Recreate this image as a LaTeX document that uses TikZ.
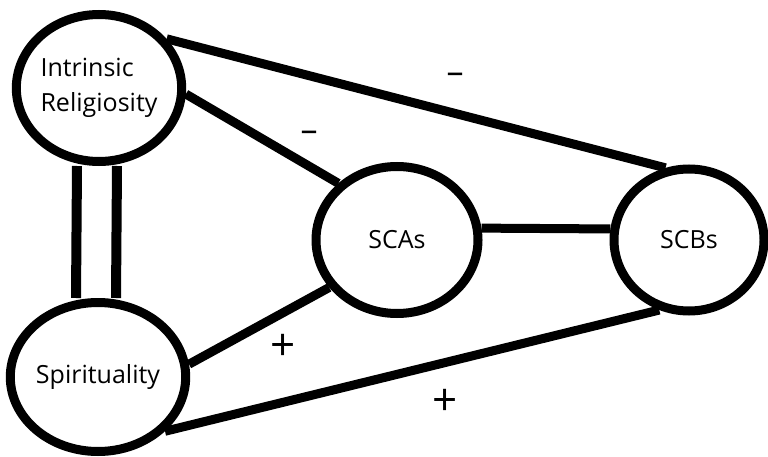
\documentclass[tikz,border=0pt]{standalone}
\usepackage{fontspec}
\setmainfont{Open Sans}
\usetikzlibrary{shapes,calc}

\begin{document}
\begin{tikzpicture}[x=1pt,y=-1pt,font=\fontsize{25}{35}\selectfont,
	var/.style={draw, ellipse, line width=9pt, inner sep=0pt, align=left},
	link/.style={line width=9pt},
	sign/.style={inner sep=0pt, font=\fontsize{44}{44}\selectfont}]
\useasboundingbox (0,0) rectangle (768,457);
	% the four variables
	\node[var, minimum width=160pt, minimum height=147pt] (ir) at (99,88) {Intrinsic\\Religiosity};
	\node[var, minimum width=162pt, minimum height=149pt] (sp) at (98,377) {Spirituality};
	\node[var, minimum width=162pt, minimum height=147pt] (sca) at (397,240) {SCAs};
	\node[var, minimum width=150pt, minimum height=142pt] (scb) at (689,240) {SCBs};
	% paths
	\draw[link] (ir.36) -- (scb.108);
	\draw[link] (ir.-4) -- (sca.136);
	\draw[link] (sca.8) -- (scb.172);
	\draw[link] (sp.8) -- (sca.215);
	\draw[link] (sp.-39) -- (scb.247);
	\draw[line width=10pt] ([xshift=-22pt]ir.south) -- ([xshift=-22pt]sp.north);
	\draw[line width=10pt] ([xshift=18pt]ir.south) -- ([xshift=18pt]sp.north);
	% signs
	\node[sign, anchor=base, font=\fontsize{34}{34}\selectfont] (s1) at (455,84) {--};
	\node[sign, anchor=base, font=\fontsize{34}{34}\selectfont] (s2) at (309,142) {--};
	\node[sign] (s3) at (283,347) {+};
	\node[sign] (s4) at (445,402) {+};
\end{tikzpicture}
\end{document}
